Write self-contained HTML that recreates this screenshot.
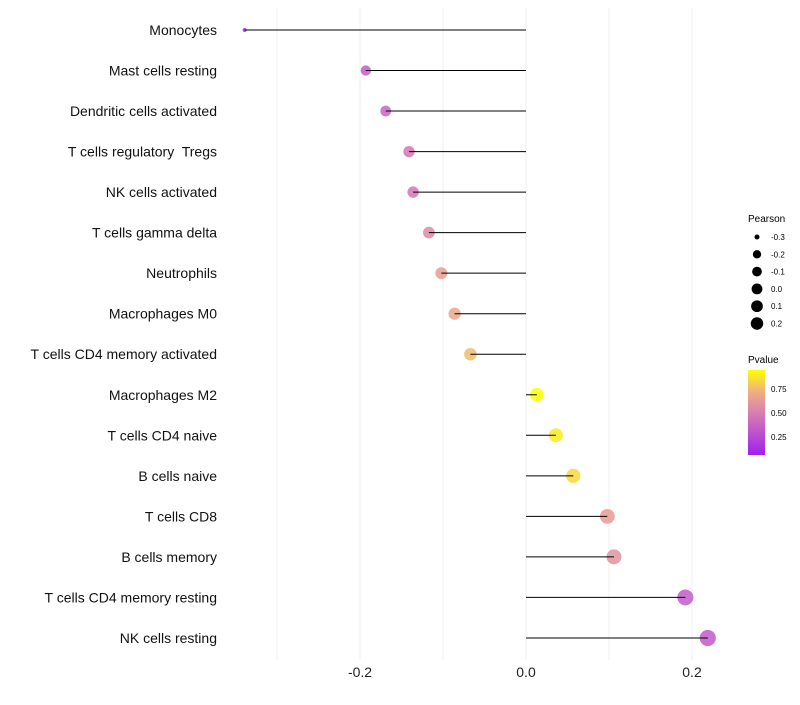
<!DOCTYPE html>
<html><head><meta charset="utf-8"><style>
body{margin:0;background:#fff;font-family:"Liberation Sans",sans-serif}
text{white-space:pre}
</style></head><body>
<svg id="chart" width="800" height="700" xmlns="http://www.w3.org/2000/svg" font-family="Liberation Sans, sans-serif">
<g id="grid"></g>
<g id="points"></g>
<g id="marks"></g>
<g id="ylabels"></g>
<g id="xlabels"></g>
<g id="legend">
<text x="748" y="222" font-size="10">Pearson</text>
<text x="748" y="363" font-size="10">Pvalue</text>
<defs><linearGradient id="pg" x1="0" y1="1" x2="0" y2="0">
<stop offset="0" stop-color="#a020f0"/><stop offset="0.5" stop-color="#d97fb0"/><stop offset="0.75" stop-color="#f0b080"/><stop offset="1" stop-color="#ffff00"/></linearGradient></defs>
<rect x="748" y="370" width="17" height="85" fill="url(#pg)"/>
<text x="771" y="392" font-size="8">0.75</text>
<text x="771" y="416" font-size="8">0.50</text>
<text x="771" y="440" font-size="8">0.25</text>
</g>
</svg>
<script>
const categories=["Monocytes","Mast cells resting","Dendritic cells activated","T cells regulatory  Tregs","NK cells activated","T cells gamma delta","Neutrophils","Macrophages M0","T cells CD4 memory activated","Macrophages M2","T cells CD4 naive","B cells naive","T cells CD8","B cells memory","T cells CD4 memory resting","NK cells resting"];
const pearson=[-0.339,-0.193,-0.169,-0.141,-0.136,-0.117,-0.102,-0.086,-0.067,0.013,0.036,0.057,0.098,0.106,0.192,0.219];
const pvalue=[0.06,0.3,0.35,0.45,0.45,0.55,0.65,0.7,0.78,0.95,0.9,0.85,0.65,0.6,0.3,0.3];
const xTicks=[-0.2,0.0,0.2];
const xTickLabels=["-0.2","0.0","0.2"];
const sizeLegend=[-0.3,-0.2,-0.1,0.0,0.1,0.2];
const NS="http://www.w3.org/2000/svg";
const xs=v=>526+830*v;
const ys=i=>30+i*40.53;
const rs=v=>2+8.2*Math.sqrt(Math.max(0,v+0.339));
const rl=v=>2.5+5*Math.sqrt(Math.max(0,v+0.3))/Math.sqrt(0.5)*0.75;
function col(p){
 const stops=[[0,[160,32,240]],[0.5,[217,127,176]],[0.75,[240,176,128]],[0.95,[255,255,0]]];
 p=Math.max(0,Math.min(0.95,p));
 for(let k=0;k<stops.length-1;k++){const [a,ca]=stops[k],[b,cb]=stops[k+1];
  if(p<=b){const t=(p-a)/(b-a);return `rgb(${ca.map((c,j)=>Math.round(c+(cb[j]-c)*t)).join(',')})`;}}
 return 'rgb(255,255,0)';
}
function mk(tag,attrs,parent){const e=document.createElementNS(NS,tag);for(const k in attrs)e.setAttribute(k,attrs[k]);document.getElementById(parent).appendChild(e);return e;}
const grid=[-0.3,-0.2,-0.1,0,0.1,0.2];
grid.forEach(g=>{const l=mk('line',{x1:xs(g),x2:xs(g),y1:8,y2:660,stroke:'#efefef','stroke-width':1},'grid');

});
xTicks.forEach((t,i)=>{const e=mk('text',{x:xs(t),y:677,'font-size':14,'text-anchor':'middle',fill:'#222'},'xlabels');e.textContent=xTickLabels[i];

});
categories.forEach((c,i)=>{
 const t=mk('text',{x:217,y:ys(i)+5,'font-size':14,'text-anchor':'end',fill:'#111'},'ylabels');t.textContent=c;
 
 
 const d=mk('circle',{cx:xs(pearson[i]),cy:ys(i),r:rs(pearson[i]),fill:col(pvalue[i]),'fill-opacity':0.85},'points');
 
 
 const l=mk('line',{x1:xs(0),x2:xs(pearson[i]),y1:ys(i),y2:ys(i),stroke:'#000','stroke-width':1},'marks');
 
 
});
sizeLegend.forEach((s,i)=>{const y=237+i*17.3;
 const c=mk('circle',{cx:757,cy:y,r:rl(s),fill:'#000'},'legend');
 
 
 const t=mk('text',{x:771,y:y+3,'font-size':8},'legend');t.textContent=s.toFixed(1);
 
 });
</script>
</body></html>
